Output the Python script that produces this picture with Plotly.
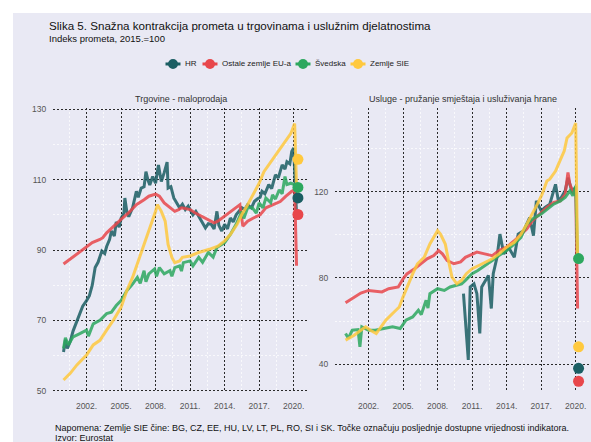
import plotly.graph_objects as go

BG = "#E9E9F4"
names = ["HR", "Ostale zemlje EU-a", "Švedska", "Zemlje SIE"]
colors = ["#1B5E63", "#E8474B", "#2DA85F", "#FFC93E"]

# Trgovine - maloprodaja (indeks, 2015.=100)
trg_hr = [("2000-01", 61), ("2000-03", 64.5), ("2000-05", 62), ("2000-08", 64), ("2000-11", 67),
          ("2001-03", 70), ("2001-06", 72), ("2001-09", 74), ("2002-01", 75.6), ("2002-04", 77),
          ("2002-07", 80), ("2002-10", 85), ("2003-01", 86.5), ("2003-05", 89.7), ("2003-08", 89),
          ("2003-10", 91), ("2004-01", 93), ("2004-03", 95.4), ("2004-06", 94), ("2004-08", 98),
          ("2004-11", 96.5), ("2005-01", 99), ("2005-04", 100.5), ("2005-05", 104.8), ("2005-07", 101),
          ("2005-09", 99.5), ("2006-01", 102), ("2006-03", 104), ("2006-05", 106.7), ("2006-07", 105),
          ("2006-10", 107.6), ("2007-01", 108), ("2007-03", 112.3), ("2007-05", 110), ("2007-07", 108.5),
          ("2007-10", 110.9), ("2008-01", 109), ("2008-04", 114.2), ("2008-06", 111), ("2008-07", 109.5),
          ("2008-10", 112), ("2009-01", 115), ("2009-02", 107.6), ("2009-05", 108), ("2009-08", 104.8),
          ("2009-11", 103.5), ("2010-02", 102), ("2010-05", 103), ("2010-08", 101.5), ("2010-11", 102.5),
          ("2011-01", 101.5), ("2011-04", 100), ("2011-07", 101), ("2011-10", 99.5), ("2012-01", 98.2),
          ("2012-05", 96.3), ("2012-08", 97.5), ("2012-11", 97.3), ("2013-02", 96), ("2013-05", 101),
          ("2013-07", 97), ("2013-10", 95.4), ("2014-01", 97.3), ("2014-04", 96), ("2014-07", 99.1),
          ("2014-10", 98), ("2015-01", 100), ("2015-04", 101), ("2015-07", 102), ("2015-10", 101.5),
          ("2016-01", 102.9), ("2016-05", 102), ("2016-08", 103.8), ("2016-11", 104.5), ("2017-02", 105),
          ("2017-04", 106.7), ("2017-07", 106), ("2017-11", 108.6), ("2018-02", 107.5), ("2018-06", 111.4),
          ("2018-09", 110.5), ("2019-01", 114.2), ("2019-04", 113), ("2019-06", 115.1), ("2019-09", 114.5),
          ("2019-11", 118), ("2020-01", 119), ("2020-04", 100)]
trg_eu = [("2000-01", 86), ("2000-06", 87), ("2000-11", 87.9), ("2001-06", 89.3), ("2002-01", 90.7),
          ("2002-07", 92.1), ("2003-03", 93), ("2003-06", 93.5), ("2003-10", 94.9), ("2004-05", 96.8),
          ("2005-01", 98.7), ("2005-09", 100.6), ("2006-05", 102.9), ("2007-01", 104.3), ("2007-06", 105.3),
          ("2008-01", 105.9), ("2008-05", 105.3), ("2008-10", 103.4), ("2009-04", 102), ("2009-09", 101),
          ("2010-01", 101.5), ("2010-04", 102), ("2010-08", 101.8), ("2011-01", 101.5), ("2011-06", 100.6),
          ("2012-01", 99.6), ("2012-08", 98.7), ("2013-02", 97.7), ("2013-06", 98.2), ("2014-01", 99.6),
          ("2014-08", 101), ("2015-01", 102), ("2015-05", 102.9), ("2015-08", 96.8), ("2016-01", 98.2),
          ("2016-07", 99.1), ("2017-02", 100), ("2017-08", 102), ("2018-04", 102.9), ("2018-11", 103.8),
          ("2019-05", 105.3), ("2019-11", 106.7), ("2020-02", 107.1), ("2020-04", 85.5)]
trg_se = [("2000-01", 62), ("2000-03", 65), ("2000-06", 63), ("2000-11", 65.3), ("2001-06", 66.2),
          ("2002-01", 67.2), ("2002-03", 65.5), ("2002-08", 69), ("2003-03", 70), ("2003-10", 71.9),
          ("2004-03", 72.3), ("2004-08", 74.2), ("2005-01", 75.6), ("2005-07", 78.4), ("2006-01", 80.3),
          ("2006-06", 82.2), ("2006-09", 80.5), ("2007-01", 84.1), ("2007-03", 81), ("2007-06", 83.2),
          ("2007-12", 84.6), ("2008-02", 82.5), ("2008-05", 85), ("2008-10", 83.2), ("2009-04", 84.1),
          ("2009-06", 82.5), ("2009-09", 85), ("2010-02", 85.5), ("2010-04", 84), ("2010-06", 86.4),
          ("2011-01", 86.9), ("2011-04", 85.5), ("2011-10", 87.9), ("2012-02", 86.5), ("2012-08", 89.3),
          ("2013-01", 88), ("2013-05", 90.7), ("2014-01", 92.1), ("2014-07", 94.4), ("2015-01", 97.3),
          ("2015-07", 101), ("2015-09", 99), ("2016-01", 102), ("2016-06", 102), ("2016-10", 100.5),
          ("2017-01", 103.4), ("2017-05", 102), ("2017-08", 104.8), ("2018-01", 103.5), ("2018-03", 105.7),
          ("2018-06", 104.5), ("2018-10", 107.1), ("2019-01", 106), ("2019-04", 110.9), ("2019-06", 108.6),
          ("2019-10", 109), ("2020-02", 108.6), ("2020-04", 107)]
trg_sie = [("2000-01", 53), ("2000-08", 54.9), ("2001-03", 57.3), ("2002-01", 60.1), ("2002-08", 63),
           ("2003-03", 64.3), ("2003-10", 67.2), ("2004-05", 70), ("2005-01", 73.7), ("2005-07", 78.4),
           ("2006-01", 82.2), ("2006-06", 86), ("2007-01", 91.6), ("2007-07", 96.3), ("2008-01", 101),
           ("2008-03", 102.9), ("2008-07", 101), ("2008-11", 98.2), ("2009-02", 91.6), ("2009-06", 87.9),
           ("2009-09", 86.4), ("2010-02", 86.9), ("2010-05", 87.9), ("2011-01", 88.3), ("2011-10", 89.3),
           ("2012-09", 90.2), ("2013-06", 91.1), ("2014-01", 92.6), ("2014-07", 94.4), ("2015-02", 97.3),
           ("2015-07", 100.1), ("2016-01", 102.9), ("2016-06", 105.3), ("2017-01", 109), ("2017-06", 112.3),
           ("2017-11", 114.2), ("2018-06", 117), ("2018-11", 118.9), ("2019-04", 120.8), ("2019-10", 123.1),
           ("2020-02", 126), ("2020-04", 108)]
trg_last_date = "2020-05-15"
trg_last = [104.8, 100.1, 107.8, 115.8]

# Usluge - pružanje smještaja i usluživanja hrane
usl_hr = [("2010-04", 72.7), ("2010-07", 54), ("2010-09", 41.9), ("2010-11", 75.8), ("2011-03", 77.3),
          ("2011-06", 72.7), ("2011-09", 54.2), ("2011-11", 75.8), ("2012-03", 78.9), ("2012-06", 81.2),
          ("2012-09", 65.8), ("2012-11", 82), ("2013-03", 89.6), ("2013-06", 100.4), ("2013-10", 91.2),
          ("2014-03", 94.3), ("2014-09", 89.6), ("2015-01", 100.4), ("2015-07", 102), ("2016-01", 108.1),
          ("2016-05", 99.7), ("2016-08", 115.8), ("2017-01", 111.2), ("2017-05", 112.8), ("2017-10", 114.3),
          ("2018-04", 123.5), ("2018-07", 115.8), ("2018-10", 117.4), ("2019-02", 120.5), ("2019-05", 126.6),
          ("2019-09", 120.5), ("2020-01", 122)]
usl_eu = [("2000-01", 68.5), ("2000-10", 71.2), ("2001-05", 73), ("2002-01", 74.2), ("2002-06", 73.9),
          ("2003-03", 73.5), ("2003-10", 75), ("2004-08", 75.8), ("2005-01", 79.6), ("2005-05", 81.9),
          ("2006-01", 84.3), ("2006-07", 86.6), ("2007-02", 88.9), ("2007-09", 90.4), ("2008-02", 92.7),
          ("2008-06", 91.2), ("2008-11", 88.1), ("2009-06", 86.6), ("2010-01", 87.5), ("2010-06", 89.6),
          ("2011-01", 91.2), ("2011-06", 92), ("2012-02", 91.2), ("2012-10", 90.4), ("2013-05", 92.7),
          ("2014-01", 94.3), ("2014-09", 97.3), ("2015-04", 100.4), ("2015-10", 102.7), ("2016-04", 106.6),
          ("2017-01", 110.4), ("2017-07", 112.8), ("2018-02", 115.1), ("2018-09", 115.8), ("2019-02", 118.9),
          ("2019-05", 129), ("2019-07", 123.5), ("2019-11", 118.9), ("2020-01", 121.2), ("2020-03", 65.8)]
usl_se = [("2000-01", 54.2), ("2000-04", 52), ("2000-08", 55.7), ("2001-02", 56), ("2001-04", 48),
          ("2001-06", 57.3), ("2002-01", 55.7), ("2002-08", 55.7), ("2003-05", 56.5), ("2004-02", 57.3),
          ("2004-10", 56.5), ("2005-04", 60.4), ("2005-11", 61.9), ("2006-05", 65), ("2006-08", 63),
          ("2007-01", 69.6), ("2007-03", 66), ("2007-05", 72.7), ("2008-01", 75), ("2008-08", 74.2),
          ("2009-02", 75.8), ("2009-09", 76.5), ("2010-02", 77.3), ("2010-06", 78.9), ("2011-01", 82),
          ("2011-07", 83.5), ("2012-03", 85.8), ("2012-10", 88.1), ("2013-05", 90.4), ("2014-01", 92.7),
          ("2014-09", 95.8), ("2015-04", 98.9), ("2015-10", 105), ("2016-04", 107.4), ("2017-01", 109.7),
          ("2017-08", 112), ("2018-02", 114.3), ("2018-09", 115.8), ("2019-02", 117.4), ("2019-07", 120.5),
          ("2019-10", 118.2), ("2020-01", 122.8), ("2020-03", 89)]
usl_sie = [("2000-01", 51.1), ("2000-10", 53.4), ("2001-05", 55.7), ("2001-10", 57.3), ("2002-03", 55.7),
           ("2002-09", 54.2), ("2003-02", 57.3), ("2003-07", 60.4), ("2004-02", 63.5), ("2004-09", 66.5),
           ("2005-01", 71.2), ("2005-05", 75.8), ("2005-11", 81.9), ("2006-04", 86.6), ("2006-11", 89.6),
           ("2007-05", 95.8), ("2007-09", 98.9), ("2008-01", 102), ("2008-04", 100.4), ("2008-09", 95.8),
           ("2009-01", 86.6), ("2009-04", 80.4), ("2009-09", 77.3), ("2010-02", 78.9), ("2010-07", 82),
           ("2011-01", 84.3), ("2011-08", 85.8), ("2012-03", 87.3), ("2012-10", 88.9), ("2013-05", 91.2),
           ("2014-01", 94.3), ("2014-09", 96.6), ("2015-04", 100.4), ("2015-10", 105), ("2016-04", 109.7),
           ("2016-09", 114.3), ("2017-02", 118.9), ("2017-07", 125.1), ("2017-10", 125.9), ("2018-04", 129.7),
           ("2018-07", 132.8), ("2019-01", 139), ("2019-04", 145.1), ("2019-09", 147.4), ("2020-01", 152),
           ("2020-03", 89)]
usl_last_date = "2020-04-01"
usl_last = [38, 32, 89, 48]

tick_years = ["2002-01-01", "2005-01-01", "2008-01-01", "2011-01-01", "2014-01-01", "2017-01-01", "2020-01-01"]

fig = go.Figure()

panels = [
    ("x", "y", [trg_hr, trg_eu, trg_se, trg_sie], trg_last_date, trg_last),
    ("x2", "y2", [usl_hr, usl_eu, usl_se, usl_sie], usl_last_date, usl_last),
]
for xa, ya, series, last_date, last_vals in panels:
    for name, col, data in zip(names, colors, series):
        xs, ys = zip(*data)
        fig.add_trace(go.Scatter(x=list(xs), y=list(ys), mode="lines", name=name,
                                 line=dict(color=col, width=3), opacity=0.85,
                                 xaxis=xa, yaxis=ya, showlegend=False, hoverinfo="skip"))
    for name, col, v in zip(names, colors, last_vals):
        fig.add_trace(go.Scatter(x=[last_date], y=[v], mode="markers", name=name,
                                 marker=dict(color=col, size=11),
                                 xaxis=xa, yaxis=ya, showlegend=False))

tickfont = dict(family="Arial, Liberation Sans", size=8.5, color="#555555")
grid = dict(showgrid=True, gridcolor="#2a2a2a", gridwidth=1, griddash="1.5px,2.5px",
            zeroline=False, showline=False, tickfont=tickfont,
            ticks="outside", tickcolor="rgba(0,0,0,0)")
xcommon = dict(type="date", range=["1999-02-01", "2021-05-01"], tickvals=tick_years,
               tickformat="%Y.", ticklen=6,
               minor=dict(showgrid=True, gridcolor="rgba(255,255,255,0.7)", gridwidth=1,
                          tick0="2000-07-01", dtick="M36"), **grid)

# hand-drawn legend (circle with a short line stub, text to the right)
legend_px = [173, 210, 303, 358]
legend_y = 1.155
shapes = [
    dict(type="rect", xref="paper", yref="paper", x0=-0.2, x1=1.2, y0=1.3345, y1=1.5,
         fillcolor="white", line_width=0, layer="below"),
    dict(type="rect", xref="paper", yref="paper", x0=-0.2, x1=-0.0743, y0=-0.3, y1=1.5,
         fillcolor="white", line_width=0, layer="below"),
]
annotations = []
for name, col, px in zip(names, colors, legend_px):
    xp = (px - 53) / 538
    shapes.append(dict(type="line", xref="paper", yref="paper", xsizemode="pixel", ysizemode="pixel",
                       xanchor=xp, yanchor=legend_y, x0=-7.5, x1=7.5, y0=0, y1=0,
                       line=dict(color=col, width=3)))
    shapes.append(dict(type="circle", xref="paper", yref="paper", xsizemode="pixel", ysizemode="pixel",
                       xanchor=xp, yanchor=legend_y, x0=-5, x1=5, y0=-5, y1=5,
                       fillcolor=col, line_width=0))
    annotations.append(dict(text=name, xref="paper", yref="paper", x=xp, y=legend_y, xshift=10,
                            xanchor="left", yanchor="middle", showarrow=False,
                            font=dict(size=8, color="#222222")))

annotations += [
    dict(text="Slika 5. Snažna kontrakcija prometa u trgovinama i uslužnim djelatnostima",
         xref="paper", yref="paper", x=-0.0112, y=1.292, xanchor="left", yanchor="middle",
         showarrow=False, font=dict(size=11.6, color="#111111")),
    dict(text="Indeks prometa, 2015.=100", xref="paper", yref="paper", x=-0.0112, y=1.243,
         xanchor="left", yanchor="middle", showarrow=False, font=dict(size=9.5, color="#111111")),
    dict(text="Trgovine - maloprodaja", xref="paper", yref="paper", x=0.238, y=1.032,
         xanchor="center", yanchor="middle", showarrow=False, font=dict(size=9, color="#333333")),
    dict(text="Usluge - pružanje smještaja i usluživanja hrane", xref="paper", yref="paper",
         x=0.762, y=1.032, xanchor="center", yanchor="middle", showarrow=False,
         font=dict(size=9, color="#333333")),
    dict(text="Napomena: Zemlje SIE čine: BG, CZ, EE, HU, LV, LT, PL, RO, SI i SK. "
              "Točke označuju posljednje dostupne vrijednosti indikatora.",
         xref="paper", yref="paper", x=0, y=-0.1268, xanchor="left", yanchor="middle",
         showarrow=False, font=dict(size=9, color="#111111")),
    dict(text="Izvor: Eurostat", xref="paper", yref="paper", x=0, y=-0.1637, xanchor="left",
         yanchor="middle", showarrow=False, font=dict(size=9, color="#111111")),
]

fig.update_layout(
    width=591, height=442,
    paper_bgcolor=BG, plot_bgcolor=BG,
    margin=dict(l=53, r=0, t=108, b=50),
    font=dict(family="Arial, Liberation Sans", color="#222222"),
    showlegend=False,
    xaxis=dict(domain=[0, 0.4758], **xcommon),
    xaxis2=dict(domain=[0.5242, 1], anchor="y2", **xcommon),
    yaxis=dict(range=[49.6, 130.4], tickvals=[50, 70, 90, 110, 130], ticklen=4,
               minor=dict(showgrid=True, gridcolor="rgba(255,255,255,0.7)", tickvals=[60, 80, 100, 120]),
               **grid),
    yaxis2=dict(range=[27, 159], tickvals=[40, 80, 120], anchor="x2", ticklen=4,
                minor=dict(showgrid=True, gridcolor="rgba(255,255,255,0.7)", tickvals=[60, 100, 140]),
                **grid),
    shapes=shapes,
    annotations=annotations,
)

fig.write_html("out.html", config={"displayModeBar": False},
               post_script="document.body.style.margin='0';document.body.style.overflow='hidden';")
